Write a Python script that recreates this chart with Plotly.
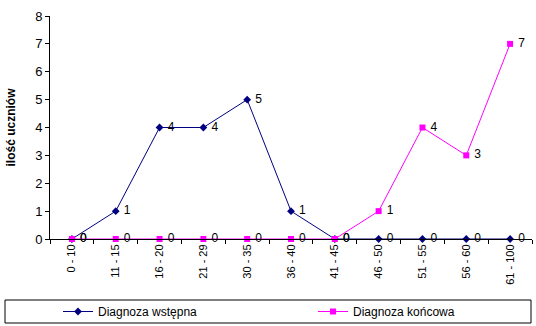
import plotly.graph_objects as go

categories = ["0 - 10", "11 - 15", "16 - 20", "21 - 29", "30 - 35", "36 - 40",
              "41 - 45", "46 - 50", "51 - 55", "56 - 60", "61 - 100"]
wstepna = [0, 1, 4, 4, 5, 1, 0, 0, 0, 0, 0]
koncowa = [0, 0, 0, 0, 0, 0, 0, 1, 4, 3, 7]

NAVY = "#000080"
MAGENTA = "#FF00FF"
FONT = "Liberation Sans, Arial, sans-serif"

W, H = 536, 326
L, R, T, B = 50, 4, 16, 87
pw = W - L - R
ph = H - T - B

fig = go.Figure()
fig.add_trace(go.Scatter(
    x=categories, y=wstepna, name="Diagnoza wstępna", legend="legend",
    mode="lines+markers+text", text=["\u00a0" + str(v) for v in wstepna],
    textposition="middle right", textfont=dict(size=12, color="black", family=FONT),
    line=dict(color=NAVY, width=1), marker=dict(symbol="diamond", size=6, color=NAVY),
    cliponaxis=False,
))
fig.add_trace(go.Scatter(
    x=categories, y=koncowa, name="Diagnoza końcowa", legend="legend2",
    mode="lines+markers+text", text=["\u00a0" + str(v) for v in koncowa],
    textposition="middle right", textfont=dict(size=12, color="black", family=FONT),
    line=dict(color=MAGENTA, width=1), marker=dict(symbol="square", size=6, color=MAGENTA),
    cliponaxis=False,
))


def px_x(p):
    return (p - L) / pw


def px_y(p):
    return (H - B - p) / ph


fig.add_shape(type="rect", xref="paper", yref="paper",
              x0=px_x(5), x1=px_x(531), y0=px_y(323), y1=px_y(300),
              line=dict(color="black", width=1), fillcolor="rgba(0,0,0,0)")

leg_common = dict(orientation="h", xref="container", yref="container",
                  xanchor="left", yanchor="middle",
                  font=dict(size=12, family=FONT), bgcolor="rgba(0,0,0,0)",
                  itemclick=False, borderwidth=0)

fig.update_layout(
    width=W, height=H,
    margin=dict(l=L, r=R, t=T, b=B, autoexpand=False),
    paper_bgcolor="white", plot_bgcolor="white",
    font=dict(family=FONT, size=12, color="black"),
    showlegend=True,
    legend=dict(x=58 / W, y=(H - 311.5) / H, **leg_common),
    legend2=dict(x=313 / W, y=(H - 311.5) / H, **leg_common),
    xaxis=dict(type="category", range=[-0.5, 10.5], showgrid=False,
               showline=True, linecolor="black", linewidth=1,
               ticks="outside", tickson="boundaries", ticklen=4, tickcolor="black",
               tickangle=-90, tickfont=dict(size=11, family=FONT)),
    yaxis=dict(range=[0, 8], dtick=1, showgrid=False, zeroline=False,
               showline=True, linecolor="black", linewidth=1,
               ticks="outside", ticklen=4, tickcolor="black",
               tickfont=dict(size=13, family=FONT),
               title=dict(text="<b>ilość uczniów</b>", font=dict(size=12, family=FONT), standoff=16)),
)

fig.write_html("out.html")
